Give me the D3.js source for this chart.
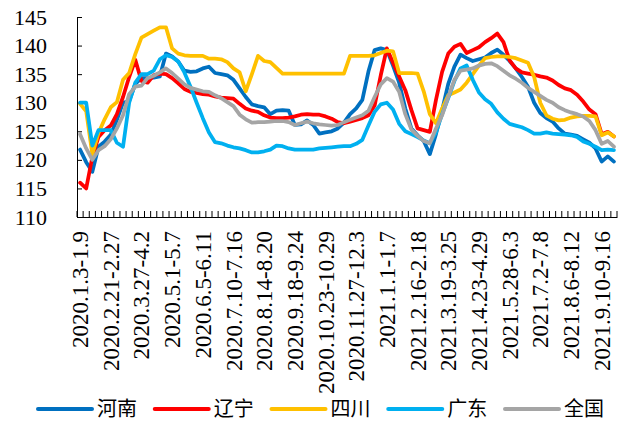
<!DOCTYPE html>
<html>
<head>
<meta charset="utf-8">
<script src="https://cdn.jsdelivr.net/npm/d3@7"></script>
<style>
    body { margin: 0; background: #fff; }
    svg text.num { font-family: "Liberation Serif", "Times New Roman", "DejaVu Serif", serif !important; }
    svg text.cjk { font-family: "Noto Sans CJK SC", sans-serif; }
</style>
</head>
<body>
<div id="chart"></div>
<script>
"use strict";

// weekly periods (x categories)
const weeks = [
    "2020.1.3-1.9", "2020.1.10-1.16", "2020.1.17-1.23", "2020.2.7-2.13", "2020.2.14-2.20",
    "2020.2.21-2.27", "2020.2.28-3.5", "2020.3.6-3.12", "2020.3.13-3.19", "2020.3.20-3.26",
    "2020.3.27-4.2", "2020.4.3-4.9", "2020.4.10-4.16", "2020.4.17-4.23", "2020.4.24-4.30",
    "2020.5.1-5.7", "2020.5.8-5.14", "2020.5.15-5.21", "2020.5.22-5.28", "2020.5.29-6.4",
    "2020.6.5-6.11", "2020.6.12-6.18", "2020.6.19-6.25", "2020.6.26-7.2", "2020.7.3-7.9",
    "2020.7.10-7.16", "2020.7.17-7.23", "2020.7.24-7.30", "2020.7.31-8.6", "2020.8.7-8.13",
    "2020.8.14-8.20", "2020.8.21-8.27", "2020.8.28-9.3", "2020.9.4-9.10", "2020.9.11-9.17",
    "2020.9.18-9.24", "2020.9.25-10.1", "2020.10.2-10.8", "2020.10.9-10.15", "2020.10.16-10.22",
    "2020.10.23-10.29", "2020.10.30-11.5", "2020.11.6-11.12", "2020.11.13-11.19", "2020.11.20-11.26",
    "2020.11.27-12.3", "2020.12.4-12.10", "2020.12.11-12.17", "2020.12.18-12.24", "2020.12.25-12.31",
    "2021.1.1-1.7", "2021.1.8-1.14", "2021.1.15-1.21", "2021.1.22-1.28", "2021.1.29-2.4",
    "2021.2.16-2.18", "2021.2.19-2.25", "2021.2.26-3.4", "2021.3.5-3.11", "2021.3.12-3.18",
    "2021.3.19-3.25", "2021.3.26-4.1", "2021.4.2-4.8", "2021.4.9-4.15", "2021.4.16-4.22",
    "2021.4.23-4.29", "2021.4.30-5.6", "2021.5.7-5.13", "2021.5.14-5.20", "2021.5.21-5.27",
    "2021.5.28-6.3", "2021.6.4-6.10", "2021.6.11-6.17", "2021.6.18-6.24", "2021.6.25-7.1",
    "2021.7.2-7.8", "2021.7.9-7.15", "2021.7.16-7.22", "2021.7.23-7.29", "2021.7.30-8.5",
    "2021.8.6-8.12", "2021.8.13-8.19", "2021.8.20-8.26", "2021.8.27-9.2", "2021.9.3-9.9",
    "2021.9.10-9.16", "2021.9.17-9.23", "2021.9.24-9.30"
];

const seriesNames = ["河南", "辽宁", "四川", "广东", "全国"];
const seriesColors = ["#0070C0", "#FF0000", "#FFC000", "#00B0F0", "#A5A5A5"];

const henan = [
    121.8, 119.6, 117.9, 122.3, 123.2, 124.4, 127, 130, 130.3, 133.3,
    134.3, 134.3, 134.4, 134.6, 138.6, 138.1, 137.2, 135.6, 135.4, 135.5,
    136, 136.3, 135.2, 135, 134.8, 134, 132.5, 131, 129.7, 129.4,
    129.2, 128, 128.6, 128.7, 128.6, 126.1, 126.2, 126.9, 126.1, 124.6,
    124.8, 125, 125.5, 126.5, 128, 129, 130.5, 135.5, 139.2, 139.5,
    139.2, 136.5, 133.5, 129, 125.5, 124.3, 123.3, 121, 124.5, 128.7,
    133.3, 136.3, 138.4, 137.8, 137.3, 137.6, 137.9, 138.7, 139.3, 138.4,
    137.3, 136, 134.5, 132.8, 130, 128.2, 127.3, 126.7, 125.5, 124.6,
    124.4, 124.2, 123.6, 123, 122, 119.7, 120.6, 119.7
];
const liaoning = [
    116, 115, 120.5, 124, 125.2, 126, 128, 131, 134.5, 137.5,
    133.8, 133.5, 134.8, 135.1, 135, 134.3, 133.4, 132.4, 131.9, 131.7,
    131.5, 131.4, 131.1, 130.9, 130.8, 130.7, 129.8, 129, 128.6, 128.4,
    127.8, 127.4, 127.3, 127.3, 127.4, 127.6, 127.9, 128, 127.9, 127.9,
    127.6, 127.2, 126.6, 126.4, 126.7, 127, 127.3, 127.8, 129.5, 134.8,
    139.5, 137, 134.6, 132.2, 128.7, 125.5, 125.2, 124.9, 130.5, 135.4,
    138.6, 139.8, 140.3, 138.7, 139.2, 139.7, 140.6, 141.3, 142.1, 140.6,
    137.4, 136, 135.3, 135.1, 134.9, 134.6, 134.4, 133.9, 133.1, 132.5,
    132.2, 131.4, 130.2, 128.8, 128, 124.5, 124.9, 124.1
];
const sichuan = [
    129.8, 128.5, 121, 124.7, 127.1, 129.2, 130.1, 134, 135.2, 138.5,
    141.4, 142, 142.6, 143.2, 143.2, 139.5, 138.6, 138.3, 138.2, 138.2,
    138.2, 137.7, 137.7, 137.6, 137.1, 136, 135.3, 132, 135, 138.2,
    137.3, 137.1, 136.1, 135.1, 135.1, 135.1, 135.1, 135.1, 135.1, 135.1,
    135.1, 135.1, 135.1, 135.1, 138.2, 138.2, 138.2, 138.2, 138.3, 138.7,
    139.1, 139, 135.2, 135.2, 135.2, 135.1, 132, 128, 126.4, 129,
    131.3, 131.8, 132.3, 133.5, 135, 136.5, 137.8, 138, 138.1, 138.1,
    138, 137.8, 137.4, 137, 134.5, 130, 127.8, 127.2, 126.9, 127,
    127.4, 127.6, 127.7, 127.7, 127.6, 124.3, 124.8, 124.1
];
const guangdong = [
    130, 130, 122.5, 125.2, 125.2, 125.2, 123, 122.3, 130, 133.5,
    135, 135, 135.6, 137.6, 138.3, 138, 137.2, 135.3, 132.8, 130,
    127.3, 124.8, 123.1, 122.9, 122.5, 122.2, 122, 121.7, 121.3, 121.3,
    121.5, 121.8, 122.5, 122.4, 122, 121.8, 121.8, 121.8, 121.8, 122,
    122.1, 122.2, 122.3, 122.4, 122.4, 122.8, 123.5, 126, 128.4, 129.7,
    130, 128.8, 126.3, 125, 124.5, 124, 123.4, 122.9, 124.8, 128,
    130.8, 133.8, 136, 136.5, 134, 131.8, 130.6, 129.8, 128.3, 127.2,
    126.3, 126, 125.7, 125.2, 124.6, 124.6, 124.8, 124.6, 124.5, 124.4,
    124.3, 124, 123.2, 122.8, 122.3, 121.7, 121.8, 121.7
];
const quanguo = [
    124.5, 122, 120, 121.7, 122.4, 123.6, 125.5, 127.8, 131.5, 132.8,
    133, 134.3, 134.7, 135.3, 136, 135.2, 134.2, 133.2, 132.6, 132.3,
    132, 131.9, 131.3, 130.8, 130.1, 129.4, 127.9, 127.1, 126.5, 126.6,
    126.6, 126.7, 126.8, 126.8, 126.6, 126.1, 126.4, 126.7, 126.4, 126.2,
    126.1, 126, 126.1, 126.6, 127, 127.4, 127.8, 128.6, 131, 133.2,
    134.3, 133.7, 131.9, 128, 125.3, 124.2, 123.3, 122.9, 125.5, 127.8,
    131, 134, 135.6, 135.8, 136, 136.5, 136.8, 136.9, 136.4, 135.6,
    134.8, 134.2, 133.5, 132.6, 131.9, 131.2, 130.5, 130, 129.2, 128.7,
    128.3, 128, 127.6, 126.8, 125.2, 122.8, 123.3, 122.3
];

const yTicks = [110, 115, 120, 125, 130, 135, 140, 145];
const LABEL_EVERY = 5;

const W = 627, H = 423;
const plot = {left: 77, right: 617, top: 17, bottom: 217};

function buildChart() {
    const svg = d3.select("#chart").append("svg")
        .attr("width", W).attr("height", H);

    const x = d3.scaleBand().domain(weeks).range([plot.left, plot.right]);
    const y = d3.scaleLinear().domain([110, 145]).range([plot.bottom, plot.top]);
    const cx = function (w) { return x(w) + x.bandwidth() / 2; };

    // y axis, ticks pointing into the plot
    const yAxis = svg.append("g")
        .attr("transform", "translate(" + plot.left + ",0)")
        .call(d3.axisLeft(y).tickValues(yTicks).tickSizeInner(-5).tickSizeOuter(0).tickPadding(30));
    yAxis.selectAll("text")
        .attr("class", "num")
        .attr("fill", "#000")
        .style("font-size", "22px");

    // x axis: labels on every 5th week
    const xAxis = svg.append("g")
        .attr("transform", "translate(0," + plot.bottom + ")")
        .call(d3.axisBottom(x)
            .tickValues(weeks.filter(function (w, i) { return i % LABEL_EVERY === 0; }))
            .tickSize(0));
    xAxis.selectAll(".tick text")
        .attr("class", "num")
        .attr("fill", "#000")
        .style("font-size", "23px")
        .attr("transform", "rotate(-90)")
        .attr("text-anchor", "end")
        .attr("x", -14)
        .attr("y", 0)
        .attr("dy", "0.35em");

    // category boundary ticks
    const bounds = weeks.map(function (w) { return x(w); }).concat([plot.right]);
    xAxis.selectAll(".bound")
        .data(bounds)
        .enter()
        .append("line")
        .attr("class", "bound")
        .attr("stroke", "#000")
        .attr("x1", function (d) { return d; })
        .attr("x2", function (d) { return d; })
        .attr("y1", 0)
        .attr("y2", -6);

    const allSeries = [henan, liaoning, sichuan, guangdong, quanguo];
    const line = d3.line()
        .x(function (d, i) { return cx(weeks[i]); })
        .y(function (d) { return y(d); });

    svg.append("g").selectAll("path")
        .data(allSeries)
        .enter()
        .append("path")
        .attr("fill", "none")
        .attr("stroke", function (d, i) { return seriesColors[i]; })
        .attr("stroke-width", 3.75)
        .attr("stroke-linejoin", "round")
        .attr("stroke-linecap", "round")
        .attr("d", line);

    // legend
    const lx = d3.scalePoint().domain(seriesNames).range([38, 505]);
    const legendY = 409;
    const item = svg.append("g")
        .selectAll("g")
        .data(seriesNames)
        .enter()
        .append("g")
        .attr("transform", function (d) { return "translate(" + lx(d) + "," + legendY + ")"; });
    item.append("line")
        .attr("x1", 0).attr("x2", 54)
        .attr("stroke", function (d, i) { return seriesColors[i]; })
        .attr("stroke-width", 4)
        .attr("stroke-linecap", "round");
    item.append("text")
        .attr("class", "cjk")
        .attr("x", 59)
        .attr("dy", "0.35em")
        .attr("fill", "#000")
        .style("font-size", "20px")
        .text(function (d) { return d; });
}

buildChart();
</script>
</body>
</html>
